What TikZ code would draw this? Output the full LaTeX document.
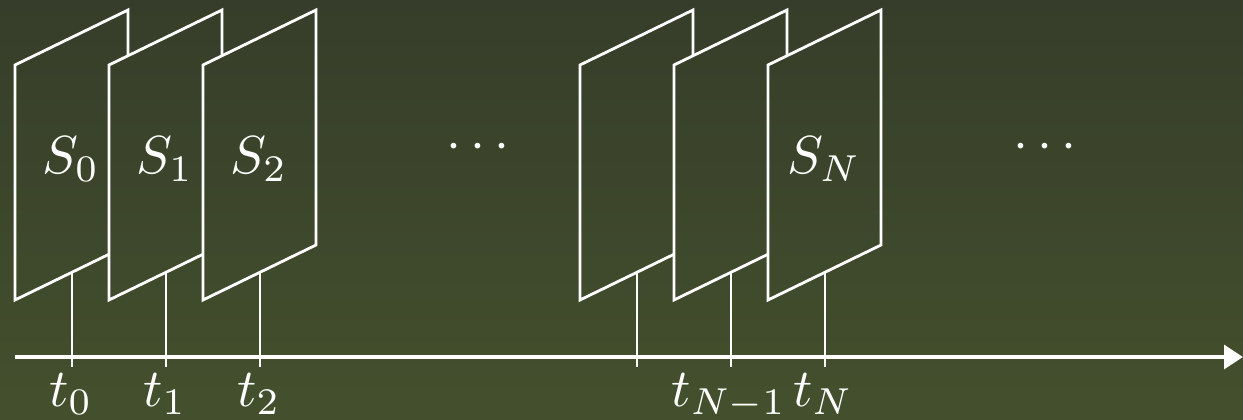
\documentclass[tikz,border=0pt]{standalone}
\usepackage{graphicx}
\usetikzlibrary{arrows.meta}
\definecolor{bgtop}{HTML}{363D2A}
\definecolor{bgbot}{HTML}{44502D}
\newcommand{\biglbl}[1]{\scalebox{3.05}{$#1$}}
\tikzset{
  bgshade/.style={top color=bgtop,bottom color=bgbot},
  plane/.style={draw=white,line width=1.6pt,line join=miter,
    path picture={\shade[bgshade] (bgnw) rectangle (bgse);}},
  tickline/.style={draw=white,line width=1.6pt},
  axisline/.style={draw=white,line width=2.7pt,-{Triangle[length=0.38cm,width=0.47cm]}},
  lbl/.style={text=white,inner sep=0pt,anchor=base},
}
\begin{document}
\begin{tikzpicture}[x=0.02cm,y=-0.02cm]
\coordinate (bgnw) at (0,0);
\coordinate (bgse) at (1243,419);
\useasboundingbox (bgnw) rectangle (bgse);
\shade[bgshade] (bgnw) rectangle (bgse);
\foreach \n/\x in {a/15,b/109,c/203,d/580,e/674,f/768}{
  \coordinate (\n-tl) at (\x,65);
  \coordinate (\n-tr) at (\x+113,10);
  \coordinate (\n-br) at (\x+113,245);
  \coordinate (\n-bl) at (\x,300);
  \path[plane] (\n-bl) -- (\n-tl) -- (\n-tr) -- (\n-br) -- cycle;
  \coordinate (\n-tick) at (\x+57,272.3);
  \coordinate (\n-foot) at (\x+57,367);
  \draw[tickline] (\n-tick) -- (\n-foot);
}
\coordinate (ax0) at (15,357);
\coordinate (ax1) at (1243,357);
\draw[axisline] (ax0) -- (ax1);
\node[lbl] (S0) at (71,173) {\biglbl{S_0}};
\node[lbl] (S1) at (165,173) {\biglbl{S_1}};
\node[lbl] (S2) at (259,173) {\biglbl{S_2}};
\node[lbl] (SN) at (824,173) {\biglbl{S_N}};
\node[lbl] (dots1) at (478,159) {\biglbl{\cdots}};
\node[lbl] (dots2) at (1045,159) {\biglbl{\cdots}};
\node[lbl] (t0) at (71,406) {\biglbl{t_0}};
\node[lbl] (t1) at (165,406) {\biglbl{t_1}};
\node[lbl] (t2) at (259,406) {\biglbl{t_2}};
\node[lbl] (tN1) at (729,406) {\biglbl{t_{N-1}}};
\node[lbl] (tN) at (823,406) {\biglbl{t_N}};
\end{tikzpicture}
\end{document}
